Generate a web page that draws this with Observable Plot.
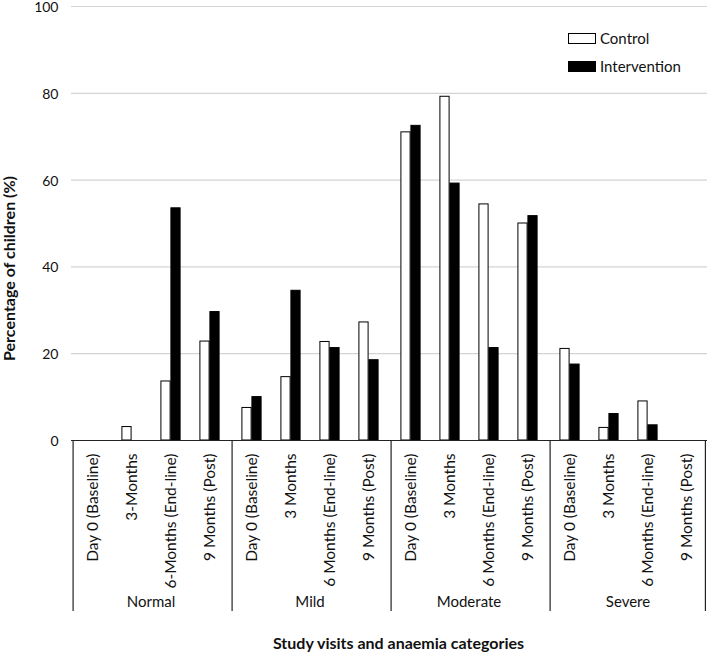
<!DOCTYPE html>
<html>
<head>
<meta charset="utf-8">
<script src="https://cdn.jsdelivr.net/npm/d3@7"></script>
<script src="https://cdn.jsdelivr.net/npm/@observablehq/plot@0.6"></script>
<style>
  html, body { margin: 0; padding: 0; background: #fff; }
  #wrap { position: relative; width: 709px; height: 658px; font-family: Lato, "Open Sans", sans-serif; color: #111; }
  #wrap svg { display: block; }
  .lg { position: absolute; font-size: 15px; line-height: 15px; }
  .sw { position: absolute; box-sizing: border-box; border: 1px solid #000; }
</style>
</head>
<body>
<div id="wrap"></div>
<script>
// ---- data ----
const groups = ["Normal", "Mild", "Moderate", "Severe"];
const visitsNormal = ["Day 0 (Baseline)", "3-Months", "6-Months (End-line)", "9 Months (Post)"];
const visitsOther = ["Day 0 (Baseline)", "3 Months", "6 Months (End-line)", "9 Months (Post)"];
const seriesNames = ["Control", "Intervention"];
const control =      [0, 3.1, 13.6, 22.8,   7.5, 14.6, 22.7, 27.2,   71.0, 79.2, 54.4, 50.0,   21.1, 2.9, 9.0, 0];
const intervention = [0, 0,   53.5, 29.6,   10.0, 34.5, 21.3, 18.5,  72.5, 59.2, 21.3, 51.7,   17.5, 6.1, 3.5, 0];
const yTicks = [0, 20, 40, 60, 80, 100];
const yTitle = "Percentage of children (%)";
const xTitle = "Study visits and anaemia categories";

// ---- table ----
const rows = [];
groups.forEach((g, gi) => {
  const labels = g === "Normal" ? visitsNormal : visitsOther;
  labels.forEach((lab, vi) => {
    const k = gi * 4 + vi;
    rows.push({group: g, idx: vi, label: lab, control: control[k], intervention: intervention[k]});
  });
});
const groupRows = groups.map(g => ({group: g, idx: 0}));

// layout constants
const W = 709, H = 658, mL = 70, mR = 2, mT = 6, mB = 218;
const facetW = (W - mL - mR) / groups.length;
const bw = facetW / 4;
const barW = 10;
const font = "Lato, 'Open Sans', sans-serif";

const chart = Plot.plot({
  width: W, height: H,
  marginLeft: mL, marginRight: mR, marginTop: mT, marginBottom: mB,
  style: {fontFamily: font, color: "#111", background: "white", overflow: "visible"},
  fx: {domain: groups, padding: 0, label: null},
  x: {domain: [0, 1, 2, 3], padding: 0, axis: null},
  y: {domain: [0, 100], axis: null},
  marks: [
    Plot.gridY(yTicks.filter(d => d > 0), {stroke: "#d4d4d4", strokeOpacity: 1, strokeWidth: 1.2}),
    Plot.barY(rows, {fx: "group", x: "idx", y: "control", fill: "white", stroke: "#000", strokeWidth: 1,
      insetLeft: bw / 2 - barW, insetRight: bw / 2}),
    Plot.barY(rows, {fx: "group", x: "idx", y: "intervention", fill: "#000", stroke: "#000", strokeWidth: 1,
      insetLeft: bw / 2, insetRight: bw / 2 - barW}),
    Plot.ruleY([0], {stroke: "#222", strokeWidth: 1.2}),
    Plot.axisY({ticks: yTicks, tickSize: 0, tickPadding: 13, fontSize: 14, label: null, dy: 1}),
    Plot.text(rows, {fx: "group", x: "idx", text: "label", rotate: -90, frameAnchor: "bottom",
      textAnchor: "end", lineAnchor: "middle", dy: 13, fontSize: 15.5, fill: "#111"}),
    Plot.ruleX(groupRows, {fx: "group", x: "idx", dx: -bw / 2, insetTop: (H - mT - mB), insetBottom: -171,
      stroke: "#222", strokeWidth: 1.2}),
    Plot.ruleX([3], {x: d => d, dx: bw / 2 - 1.5, insetTop: (H - mT - mB), insetBottom: -171,
      stroke: "#222", strokeWidth: 1.2, facetAnchor: "right"}),
    Plot.axisFx({anchor: "bottom", tickSize: 0, tickPadding: 156, fontSize: 15, label: null}),
    Plot.text([yTitle], {frameAnchor: "left", rotate: -90, textAnchor: "middle", dx: -62, dy: 45,
      fontSize: 16, fontWeight: "bold", fill: "#111", facetAnchor: "left"}),
    Plot.text([xTitle], {frameAnchor: "bottom-left", textAnchor: "middle", dx: 327, dy: 208,
      fontSize: 16, fontWeight: "bold", fill: "#111", facetAnchor: "left"})
  ]
});

const wrap = document.getElementById("wrap");
wrap.appendChild(chart);

// legend
const legendItems = [
  {name: seriesNames[0], fill: "#fff", top: 33},
  {name: seriesNames[1], fill: "#000", top: 61}
];
legendItems.forEach(it => {
  const sw = document.createElement("div");
  sw.className = "sw";
  sw.style.left = "568px"; sw.style.top = it.top + "px";
  sw.style.width = "28px"; sw.style.height = "11px";
  sw.style.background = it.fill;
  wrap.appendChild(sw);
  const t = document.createElement("div");
  t.className = "lg";
  t.textContent = it.name;
  t.style.left = "600px"; t.style.top = (it.top - 2) + "px";
  wrap.appendChild(t);
});
</script>
</body>
</html>
